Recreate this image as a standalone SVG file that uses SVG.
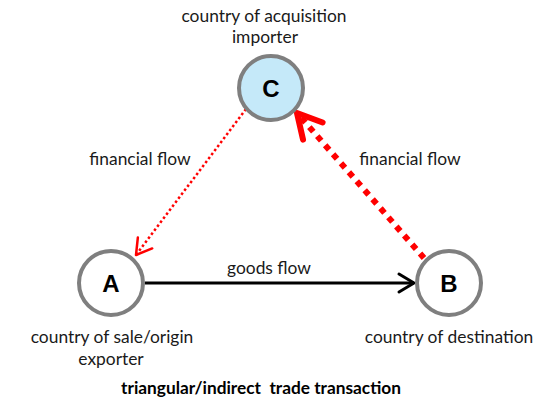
<svg xmlns="http://www.w3.org/2000/svg" width="560" height="402" viewBox="0 0 560 402">
  <style>
    .node { fill: #ffffff; stroke: #7f7f7f; stroke-width: 4; }
    .node.hi { fill: #c5e9f9; }
    .letter { font-family: "Liberation Sans", Arial, sans-serif; font-weight: bold; font-size: 24px; fill: #000; text-anchor: middle; }
    .lbl { font-family: Lato, "Liberation Sans", sans-serif; font-size: 17.4px; fill: #1a1a1a; text-anchor: middle; }
    .title { font-family: Lato, "Liberation Sans", sans-serif; font-size: 17.3px; font-weight: bold; fill: #000; text-anchor: middle; white-space: pre; }
    .goods { stroke: #000; stroke-width: 3; fill: none; }
    .fin-thin { stroke: #ff0000; stroke-width: 2.5; stroke-dasharray: 2.5 2.5; fill: none; }
    .fin-thick { stroke: #ff0000; stroke-width: 6; stroke-dasharray: 6 6; fill: none; }
  </style>
  <defs>
    <marker id="headBlack" markerUnits="userSpaceOnUse" viewBox="-20 -12 24 24" markerWidth="24" markerHeight="24" refX="0" refY="0" orient="auto">
      <polyline points="-15,-9 0,0 -15,9" fill="none" stroke="#000" stroke-width="3" stroke-linecap="round" stroke-linejoin="round"/>
    </marker>
    <marker id="headThin" markerUnits="userSpaceOnUse" viewBox="-20 -12 24 24" markerWidth="24" markerHeight="24" refX="0" refY="0" orient="auto">
      <polyline points="-15,-9 0,0 -15,9" fill="none" stroke="#ff0000" stroke-width="2.5" stroke-linecap="round" stroke-linejoin="round"/>
    </marker>
    <marker id="headThick" markerUnits="userSpaceOnUse" viewBox="-30 -17 34 34" markerWidth="34" markerHeight="34" refX="0" refY="0" orient="auto">
      <polyline points="-24,-13 0,0 -24,13" fill="none" stroke="#ff0000" stroke-width="6" stroke-linecap="round" stroke-linejoin="round"/>
    </marker>
  </defs>

  <!-- flows between countries -->
  <g id="connectors">
    <line class="goods" x1="145" y1="283" x2="414" y2="283" marker-end="url(#headBlack)"/>
    <line class="fin-thin" x1="246" y1="109" x2="136" y2="255" marker-end="url(#headThin)"/>
    <line class="fin-thick" x1="424" y1="258" x2="297" y2="113" marker-end="url(#headThick)"/>
    <text class="lbl" x="269" y="274">goods flow</text>
    <text class="lbl" x="140" y="165">financial flow</text>
    <text class="lbl" x="410" y="165">financial flow</text>
  </g>

  <g id="nodeC">
    <circle class="node hi" cx="271" cy="88" r="32"/>
    <text class="letter" x="271" y="97">C</text>
    <text class="lbl" x="264" y="22">country of acquisition</text>
    <text class="lbl" x="265" y="43">importer</text>
  </g>

  <g id="nodeA">
    <circle class="node" cx="111" cy="283" r="32"/>
    <text class="letter" x="111" y="292">A</text>
    <text class="lbl" x="112" y="343">country of sale/origin</text>
    <text class="lbl" x="111" y="365">exporter</text>
  </g>

  <g id="nodeB">
    <circle class="node" cx="449" cy="283" r="32"/>
    <text class="letter" x="449" y="292">B</text>
    <text class="lbl" x="449" y="343">country of destination</text>
  </g>

  <text class="title" x="261" y="394">triangular/indirect  trade transaction</text>
</svg>
